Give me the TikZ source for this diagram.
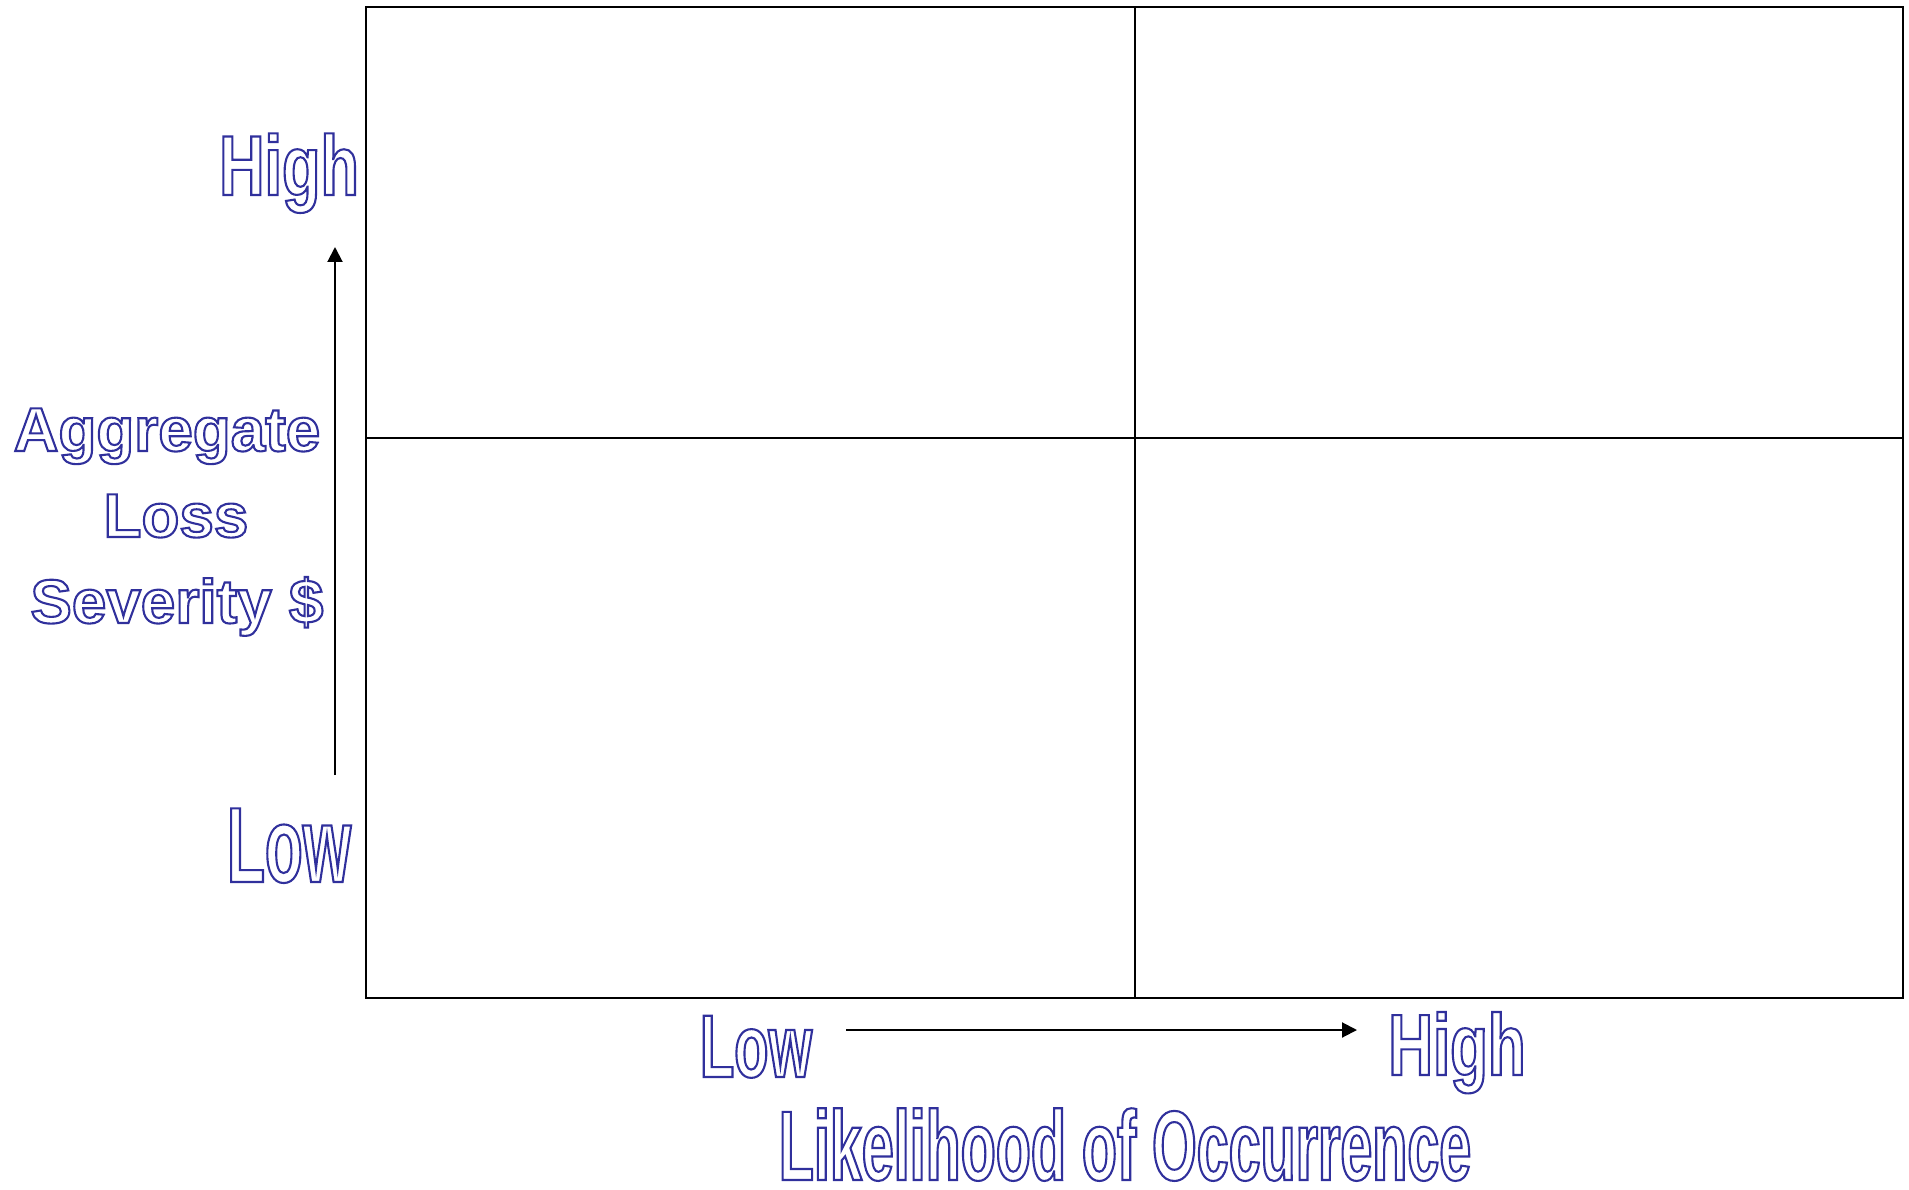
\documentclass[tikz,border=0pt]{standalone}
\usepackage{fontspec}
\setmainfont{Liberation Sans}
\usepackage{xcolor}
\usetikzlibrary{positioning,arrows.meta}
\definecolor{outl}{RGB}{48,48,156}
% hollow letters: stroke only
\newcommand{\hollow}[1]{\special{pdf:literal direct 1 Tr 2.1 w}#1\special{pdf:literal direct 0 Tr}}
\newcommand{\hlbl}[3]{\hollow{\fontsize{#1}{#1}\selectfont\addfontfeatures{FakeStretch=#2}#3}}

\begin{document}
\begin{tikzpicture}[x=1pt,y=-1pt,
  lbl/.style={inner sep=0pt,anchor=base,text=outl,font=\bfseries},
  grid/.style={line width=2pt},
  axis/.style={line width=2pt,-{Triangle[length=15pt,width=15pt]}}]
\useasboundingbox (0,0) rectangle (1909,1190);

\draw[grid] (366,7) rectangle (1903,998);
\draw[grid] (1135,7) -- (1135,998)
  (366,438) -- (1903,438);

\draw node (hiy) at (289,195) [lbl]{\hlbl{85}{0.74}{High}};
\draw node (loy) at (289,882) [lbl]{\hlbl{107}{0.58}{Low}};
\draw node (agg) at (167,451) [lbl]{\hlbl{62}{1}{Aggregate}};
\draw node (loss) at (176,537) [lbl]{\hlbl{62}{1}{Loss}};
\draw node (sev) at (177,623) [lbl]{\hlbl{62}{1}{Severity \$}};

\draw node (lox) at (756,1077) [lbl]{\hlbl{89}{0.63}{Low}};
\draw node (hix) at (1457,1075) [lbl]{\hlbl{87}{0.71}{High}};
\draw node (lik) at (1125,1180) [lbl]{\hlbl{99}{0.58}{Likelihood of Occurrence}};

\coordinate (ybot) at (335,775);
\coordinate (ytop) at (335,247);
\coordinate (xleft) at (846,1030);
\coordinate (xright) at (1357,1030);
\draw[axis] (ybot) -- (ytop);
\draw[axis] (xleft) -- (xright);
\end{tikzpicture}
\end{document}
